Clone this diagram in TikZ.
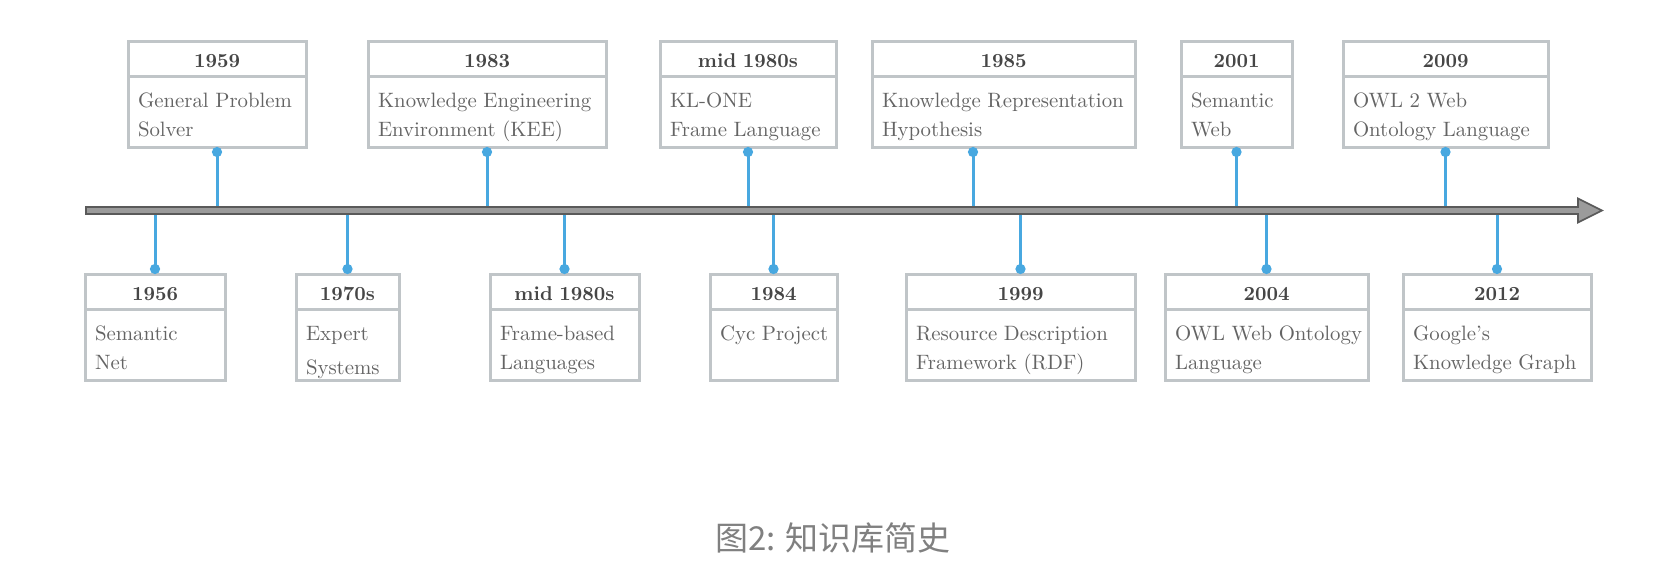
\documentclass[tikz,border=0pt]{standalone}
\usepackage{fontspec}
\newfontfamily\cjk{Noto Sans CJK SC}
\definecolor{boxgray}{RGB}{192,197,200}
\definecolor{stemblue}{RGB}{72,168,224}
\definecolor{bodygray}{RGB}{100,100,100}
\definecolor{yeargray}{RGB}{70,70,70}
\definecolor{axisfill}{RGB}{155,155,155}
\definecolor{axisline}{RGB}{90,90,90}
\definecolor{capgray}{RGB}{128,128,128}
\usetikzlibrary{calc}
\usetikzlibrary{shapes.multipart,arrows.meta}
\newcommand{\evyear}[1]{\centering\fontsize{10}{11}\selectfont\bfseries\color{yeargray}\rule[-3.75pt]{0pt}{16pt}#1\par}
\newcommand{\evtxt}[2]{\raggedright\fontsize{10.4}{14.5}\selectfont\rule{0pt}{14.75pt}\mbox{#1}\\\mbox{#2}\rule[-4.75pt]{0pt}{4.75pt}\par}
\tikzset{
  evbox/.style={rectangle split, rectangle split parts=2, draw=boxgray, line width=1.5pt,
    inner xsep=5pt, inner ysep=0pt, outer sep=0pt, anchor=north west, align=left, text=bodygray},
  stemline/.style={stemblue, line width=1.5pt, -{Circle[length=5pt]}},
  axisarrow/.style={fill=axisfill, draw=axisline, line width=0.8pt, line join=miter},
}
\begin{document}
\begin{tikzpicture}[x=0.5pt, y=-0.5pt]
  \useasboundingbox (0,0) rectangle (1674,578);

  % boxes above the line
  \node [evbox, text width=79pt] (gps) at (128,41) {\evyear{1959}\nodepart{two}\evtxt{General Problem}{Solver}};
  \node [evbox, text width=109pt] (kee) at (368,41) {\evyear{1983}\nodepart{two}\evtxt{Knowledge Engineering}{Environment (KEE)}};
  \node [evbox, text width=78pt] (klone) at (660,41) {\evyear{mid 1980s}\nodepart{two}\evtxt{KL-ONE}{Frame Language}};
  \node [evbox, text width=121.5pt] (krh) at (872,41) {\evyear{1985}\nodepart{two}\evtxt{Knowledge Representation}{Hypothesis}};
  \node [evbox, text width=45.5pt] (semweb) at (1181,41) {\evyear{2001}\nodepart{two}\evtxt{Semantic}{Web}};
  \node [evbox, text width=92.5pt] (owltwo) at (1343,41) {\evyear{2009}\nodepart{two}\evtxt{OWL 2 Web}{Ontology Language}};

  % boxes below the line
  \node [evbox, text width=60pt] (semnet) at (85,274) {\evyear{1956}\nodepart{two}\evtxt{Semantic}{Net}};
  \node [evbox, text width=41.5pt] (expert) at (296,274) {\evyear{1970s}\nodepart{two}\raggedright\fontsize{10.4}{14.5}\selectfont\rule{0pt}{14.75pt}Expert\\[2.5pt]Systems\rule[-2.25pt]{0pt}{2.25pt}\par};
  \node [evbox, text width=64.5pt] (frame) at (490,274) {\evyear{mid 1980s}\nodepart{two}\evtxt{Frame-based}{Languages}};
  \node [evbox, text width=53.5pt] (cyc) at (710,274) {\evyear{1984}\nodepart{two}\evtxt{Cyc Project}{}};
  \node [evbox, text width=104.5pt] (rdf) at (906,274) {\evyear{1999}\nodepart{two}\evtxt{Resource Description}{Framework (RDF)}};
  \node [evbox, text width=91.5pt] (owl) at (1165,274) {\evyear{2004}\nodepart{two}\evtxt{OWL Web Ontology}{Language}};
  \node [evbox, text width=84pt] (kg) at (1403,274) {\evyear{2012}\nodepart{two}\evtxt{Google’s}{Knowledge Graph}};

  \coordinate (tstart) at (86,210.5);
  \coordinate (tend) at (1602,210.5);

  % stems
  \draw [stemline] (gps.south |- tstart) -- (gps.south);
  \draw [stemline] (kee.south |- tstart) -- (kee.south);
  \draw [stemline] (klone.south |- tstart) -- (klone.south);
  \draw [stemline] ([xshift=-15.25pt]krh.south |- tstart) -- ([xshift=-15.25pt]krh.south);
  \draw [stemline] (semweb.south |- tstart) -- (semweb.south);
  \draw [stemline] (owltwo.south |- tstart) -- (owltwo.south);
  \draw [stemline] (semnet.north |- tstart) -- (semnet.north);
  \draw [stemline] (expert.north |- tstart) -- (expert.north);
  \draw [stemline] (frame.north |- tstart) -- (frame.north);
  \draw [stemline] (cyc.north |- tstart) -- (cyc.north);
  \draw [stemline] (rdf.north |- tstart) -- (rdf.north);
  \draw [stemline] (owl.north |- tstart) -- (owl.north);
  \draw [stemline] (kg.north |- tstart) -- (kg.north);

  % time line
  \draw [axisarrow] ($(tstart)+(0,-3.5)$) -- ($(tend)+(-24,-3.5)$) -- ($(tend)+(-24,-12)$) -- (tend)
    -- ($(tend)+(-24,12)$) -- ($(tend)+(-24,3.5)$) -- ($(tstart)+(0,3.5)$) -- cycle;

  \node [text=capgray, font=\cjk\fontsize{16.5}{20}\selectfont] (caption) at (833,538) {图2: 知识库简史};
\end{tikzpicture}
\end{document}
